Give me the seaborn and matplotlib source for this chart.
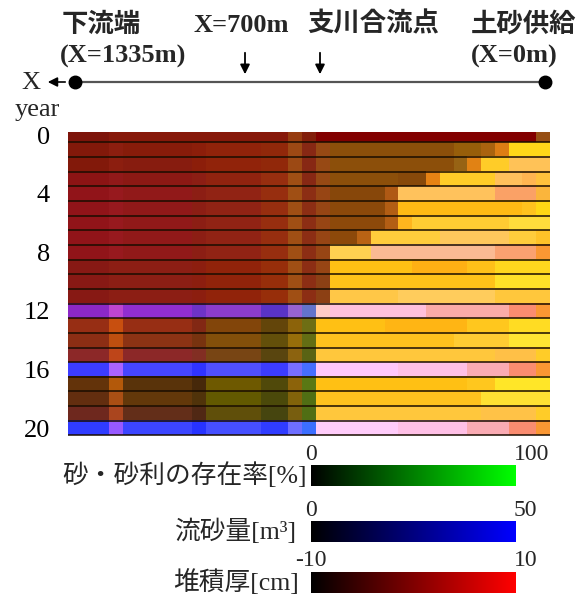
import numpy as np
import matplotlib
matplotlib.use("Agg")
import matplotlib.pyplot as plt
from matplotlib.colors import LinearSegmentedColormap, Normalize
from matplotlib.cm import ScalarMappable
import seaborn as sns

# years shown on the vertical axis
year_ticks = [0, 4, 8, 12, 16, 20]

# deposition thickness [cm], downstream reach (X=1335m -> tributary junction), rows = year 0..20
dep_down = [
    [-0.2, -0.2, -0.2, 0.6, 0.6, 0.6, 0.6, 0.6, 0.6, 0.6, 0.6, 0.6, 0.6, 0.6, 0.6, 0.6, 1.8, 0.2],
    [0.2, 0.2, 0.2, 1.0, 0.6, 0.6, 0.6, 0.6, 0.6, 1.0, 1.4, 1.4, 1.4, 1.4, 1.4, 1.4, 2.2, 0.6],
    [0.2, 0.2, 0.2, 1.0, 0.6, 0.6, 0.6, 0.6, 0.6, 1.0, 1.4, 1.4, 1.4, 1.4, 1.4, 1.4, 2.2, 0.6],
    [1.0, 1.0, 1.0, 1.4, 1.0, 1.0, 1.0, 1.0, 1.0, 1.0, 1.4, 1.4, 1.4, 1.4, 1.8, 1.8, 2.5, 0.6],
    [1.4, 1.4, 1.4, 1.8, 1.4, 1.4, 1.4, 1.4, 1.4, 1.0, 1.4, 1.4, 1.4, 1.4, 1.8, 1.8, 2.5, 1.0],
    [1.4, 1.4, 1.4, 1.8, 1.4, 1.4, 1.4, 1.4, 1.4, 1.0, 1.4, 1.4, 1.4, 1.4, 1.8, 1.8, 2.5, 1.0],
    [1.4, 1.4, 1.4, 1.8, 1.4, 1.4, 1.4, 1.4, 1.4, 1.0, 1.4, 1.4, 1.4, 1.4, 1.8, 1.8, 2.5, 1.0],
    [1.4, 1.4, 1.4, 1.8, 1.4, 1.4, 1.4, 1.4, 1.4, 1.0, 1.4, 1.4, 1.4, 1.4, 1.8, 1.8, 2.5, 1.0],
    [1.4, 1.4, 1.4, 1.8, 1.4, 1.4, 1.4, 1.4, 1.4, 1.0, 1.4, 1.4, 1.4, 1.4, 1.8, 1.8, 2.5, 1.0],
    [0.6, 0.6, 0.6, 1.0, 1.0, 1.0, 1.0, 1.0, 1.0, 1.0, 1.4, 1.4, 1.4, 1.4, 1.8, 1.8, 2.5, 1.0],
    [0.6, 0.6, 0.6, 1.0, 1.0, 1.0, 1.0, 1.0, 1.0, 1.0, 1.4, 1.4, 1.4, 1.4, 1.8, 1.8, 2.5, 1.0],
    [0.6, 0.6, 0.6, 1.0, 1.0, 1.0, 1.0, 1.0, 1.0, 1.0, 1.4, 1.4, 1.4, 1.4, 1.8, 1.8, 2.5, 1.0],
    [1.0, 1.0, 1.0, 4.9, 1.4, 1.4, 1.4, 1.4, 1.4, -1.4, 1.0, 1.0, 1.0, 1.0, -2.9, -2.9, 1.8, -2.2],
    [1.8, 1.8, 1.8, 5.7, 1.8, 1.8, 1.8, 1.8, 1.8, 0.2, 0.2, 0.2, 0.2, 0.2, -2.2, -2.2, 1.0, -1.4],
    [1.0, 1.0, 1.0, 4.9, 1.0, 1.0, 1.0, 1.0, 1.0, -0.6, 0.2, 0.2, 0.2, 0.2, -2.2, -2.2, 1.8, -2.2],
    [1.0, 1.0, 1.0, 4.9, 1.0, 1.0, 1.0, 1.0, 1.0, 0.2, -0.6, -0.6, -0.6, -0.6, -2.9, -2.9, 1.0, -2.9],
    [-5.3, -5.3, -5.3, 3.3, -4.5, -4.5, -4.5, -4.5, -4.5, -6.1, -3.7, -3.7, -3.7, -3.7, -5.3, -5.3, -0.6, -4.5],
    [-2.2, -2.2, -2.2, 4.1, -2.9, -2.9, -2.9, -2.9, -2.9, -4.5, -1.4, -1.4, -1.4, -1.4, -3.7, -3.7, 1.0, -2.9],
    [-2.2, -2.2, -2.2, 3.3, -2.2, -2.2, -2.2, -2.2, -2.2, -3.7, -2.2, -2.2, -2.2, -2.2, -4.1, -4.1, 0.2, -3.7],
    [-1.4, -1.4, -1.4, 3.3, -2.2, -2.2, -2.2, -2.2, -2.2, -3.7, -2.5, -2.5, -2.5, -2.5, -4.5, -4.5, -0.6, -3.7],
    [-6.1, -6.1, -6.1, 1.8, -5.3, -5.3, -5.3, -5.3, -5.3, -6.9, -4.5, -4.5, -4.5, -4.5, -6.1, -6.1, -1.4, -5.3],
]

# deposition thickness [cm], upstream reach (junction -> sediment supply X=0m)
dep_up = [
    [0.2, 0.2, 0.2, 0.2, 0.2, 0.2, 0.2, 0.2, 0.2, 0.2, 0.2, 0.2, 0.2, 0.2, 0.2, 0.2, 1.8],
    [1.8, 1.0, 1.0, 1.0, 1.0, 1.0, 1.0, 1.0, 1.0, 1.0, 1.8, 1.8, 3.3, 7.3, 10, 10, 10],
    [1.8, 1.0, 1.0, 1.0, 1.0, 1.0, 1.0, 1.0, 1.0, 1.0, 1.8, 7.6, 10, 10, 10, 10, 10],
    [1.8, 1.0, 1.0, 1.0, 1.0, 1.0, 0.6, 0.6, 8.0, 10, 10, 10, 10, 10, 10, 10, 10],
    [1.8, 0.6, 0.6, 0.6, 0.6, 3.7, 10, 10, 10, 10, 10, 10, 10, 9.6, 9.6, 9.6, 9.6],
    [1.8, 1.0, 1.0, 1.0, 1.0, 4.1, 10, 10, 10, 10, 10, 10, 10, 10, 10, 10, 10],
    [1.8, 1.0, 1.0, 1.0, 1.0, 4.1, 10, 10, 10, 10, 10, 10, 10, 10, 10, 10, 10],
    [1.8, 1.0, 1.0, 4.5, 10, 10, 10, 10, 10, 10, 10, 10, 10, 10, 10, 10, 10],
    [1.8, 10, 10, 10, 9.6, 9.6, 9.6, 9.6, 9.6, 9.6, 9.6, 9.6, 9.6, 9.6, 9.6, 9.6, 9.6],
    [1.8, 10, 10, 10, 10, 10, 10, 10, 10, 10, 10, 10, 10, 10, 10, 10, 10],
    [1.0, 10, 10, 10, 10, 10, 10, 10, 10, 10, 10, 10, 10, 10, 10, 10, 10],
    [1.0, 10, 10, 10, 10, 10, 10, 10, 10, 10, 10, 10, 10, 10, 10, 10, 10],
    [10, 10, 10, 10, 10, 10, 10, 10, 9.6, 9.6, 9.6, 9.6, 9.6, 9.6, 9.6, 9.6, 9.6],
    [10, 10, 10, 10, 10, 10, 10, 10, 10, 10, 10, 10, 10, 10, 10, 10, 10],
    [10, 10, 10, 10, 10, 10, 10, 10, 10, 10, 10, 10, 10, 10, 10, 10, 10],
    [10, 10, 10, 10, 10, 10, 10, 10, 10, 10, 10, 10, 10, 10, 10, 10, 10],
    [10, 10, 10, 10, 10, 10, 10, 10, 10, 10, 10, 9.6, 9.6, 9.6, 9.6, 9.6, 9.6],
    [10, 10, 10, 10, 10, 10, 10, 10, 10, 10, 10, 10, 10, 10, 10, 10, 10],
    [10, 10, 10, 10, 10, 10, 10, 10, 10, 10, 10, 10, 10, 10, 10, 10, 10],
    [10, 10, 10, 10, 10, 10, 10, 10, 10, 10, 10, 10, 10, 10, 10, 10, 10],
    [10, 10, 10, 10, 10, 10, 10, 10, 10, 10, 10, 9.6, 9.6, 9.6, 9.6, 9.6, 9.6],
]

# sand / gravel ratio [%]
sand_down = [
    [8, 8, 8, 10, 10, 10, 10, 10, 10, 10, 10, 10, 10, 10, 10, 10, 24, 12],
    [10, 10, 10, 12, 11, 11, 11, 11, 11, 12, 14, 14, 14, 14, 16, 16, 29, 16],
    [10, 10, 10, 12, 11, 11, 11, 11, 11, 12, 14, 14, 14, 14, 16, 16, 29, 16],
    [8, 8, 8, 10, 10, 10, 10, 10, 10, 12, 14, 14, 14, 14, 18, 18, 31, 16],
    [8, 8, 8, 10, 10, 10, 10, 10, 10, 12, 14, 14, 14, 14, 18, 18, 31, 18],
    [8, 8, 8, 10, 10, 10, 10, 10, 10, 12, 14, 14, 14, 14, 18, 18, 31, 18],
    [8, 8, 8, 10, 10, 10, 10, 10, 10, 12, 14, 14, 14, 14, 18, 18, 31, 18],
    [8, 8, 8, 10, 10, 10, 10, 10, 10, 12, 14, 14, 14, 14, 18, 18, 31, 18],
    [8, 8, 8, 10, 10, 10, 10, 10, 10, 12, 14, 14, 14, 14, 18, 18, 31, 18],
    [10, 10, 10, 12, 12, 12, 12, 12, 12, 12, 14, 14, 14, 14, 18, 18, 31, 18],
    [10, 10, 10, 12, 12, 12, 12, 12, 12, 12, 14, 14, 14, 14, 18, 18, 31, 18],
    [10, 10, 10, 12, 12, 12, 12, 12, 12, 12, 14, 14, 14, 14, 18, 18, 31, 18],
    [16, 16, 16, 27, 18, 18, 18, 18, 18, 20, 24, 24, 24, 24, 20, 20, 39, 45],
    [18, 18, 18, 31, 18, 18, 18, 18, 18, 16, 27, 27, 27, 27, 27, 27, 39, 43],
    [18, 18, 18, 31, 20, 20, 20, 20, 20, 20, 31, 31, 31, 31, 31, 31, 43, 43],
    [16, 16, 16, 27, 16, 16, 16, 16, 16, 18, 27, 27, 27, 27, 27, 27, 39, 39],
    [24, 24, 24, 39, 27, 27, 27, 27, 27, 20, 31, 31, 31, 31, 24, 24, 43, 43],
    [20, 20, 20, 35, 20, 20, 20, 20, 20, 16, 35, 35, 35, 35, 29, 29, 39, 47],
    [18, 18, 18, 31, 22, 22, 22, 22, 22, 20, 35, 35, 35, 35, 29, 29, 39, 43],
    [16, 16, 16, 27, 18, 18, 18, 18, 18, 16, 31, 31, 31, 31, 27, 27, 37, 43],
    [24, 24, 24, 35, 27, 27, 27, 27, 27, 20, 31, 31, 31, 31, 24, 24, 43, 43],
]

sand_up = [
    [0, 0, 0, 0, 0, 0, 0, 0, 0, 0, 0, 0, 0, 0, 0, 0, 31],
    [29, 31, 31, 31, 31, 31, 31, 31, 31, 31, 37, 37, 39, 49, 84, 84, 84],
    [29, 31, 31, 31, 31, 31, 31, 31, 31, 31, 39, 51, 80, 80, 76, 76, 76],
    [29, 31, 31, 31, 31, 31, 29, 29, 51, 80, 80, 80, 80, 75, 75, 71, 76],
    [27, 28, 28, 28, 28, 35, 76, 76, 76, 76, 76, 76, 76, 63, 63, 63, 71],
    [27, 29, 29, 29, 29, 37, 73, 73, 73, 73, 73, 73, 73, 73, 73, 76, 84],
    [27, 29, 29, 29, 29, 37, 71, 80, 80, 80, 80, 80, 80, 80, 86, 86, 86],
    [27, 29, 29, 39, 80, 80, 80, 80, 80, 78, 78, 78, 78, 78, 80, 80, 76],
    [27, 82, 82, 82, 73, 73, 73, 73, 73, 73, 73, 73, 73, 63, 63, 63, 59],
    [27, 75, 75, 75, 75, 75, 75, 69, 69, 69, 69, 75, 75, 84, 84, 84, 84],
    [25, 76, 76, 76, 76, 76, 76, 76, 76, 76, 76, 76, 76, 88, 88, 88, 88],
    [25, 78, 78, 78, 78, 78, 80, 80, 80, 80, 80, 80, 80, 78, 78, 78, 78],
    [80, 75, 75, 75, 75, 75, 75, 75, 67, 67, 67, 67, 67, 67, 55, 55, 59],
    [75, 75, 75, 75, 75, 71, 71, 71, 71, 71, 71, 78, 78, 78, 86, 86, 86],
    [76, 76, 76, 76, 76, 76, 76, 76, 76, 76, 80, 80, 80, 80, 90, 90, 90],
    [78, 78, 78, 78, 78, 78, 78, 78, 78, 78, 78, 78, 78, 75, 75, 75, 80],
    [78, 78, 78, 78, 78, 78, 75, 75, 75, 75, 75, 67, 67, 67, 55, 55, 59],
    [75, 75, 75, 75, 75, 75, 75, 75, 75, 75, 75, 78, 78, 90, 90, 90, 90],
    [76, 76, 76, 76, 76, 76, 76, 76, 76, 76, 76, 76, 88, 88, 88, 88, 88],
    [78, 78, 78, 78, 78, 78, 78, 78, 78, 78, 78, 78, 76, 76, 76, 76, 80],
    [80, 80, 80, 80, 80, 80, 75, 75, 75, 75, 75, 67, 67, 67, 55, 55, 59],
]

# sediment transport [m3]
flux_down = [
    [2, 2, 2, 2, 2, 2, 2, 2, 2, 2, 2, 2, 2, 2, 2, 2, 3, 2],
    [2, 2, 2, 3, 2, 2, 2, 2, 2, 2, 2, 2, 2, 2, 2, 2, 4, 4],
    [2, 2, 2, 3, 3, 3, 3, 3, 3, 2, 2, 2, 2, 2, 2, 2, 4, 4],
    [4, 4, 4, 5, 4, 4, 4, 4, 4, 4, 3, 3, 3, 3, 3, 3, 4, 4],
    [5, 5, 5, 6, 5, 5, 5, 5, 5, 4, 4, 4, 4, 4, 3, 3, 4, 4],
    [5, 5, 5, 6, 5, 5, 5, 5, 5, 4, 4, 4, 4, 4, 3, 3, 4, 4],
    [5, 5, 5, 6, 5, 5, 5, 5, 5, 4, 4, 4, 4, 4, 3, 3, 4, 4],
    [5, 5, 5, 6, 5, 5, 5, 5, 5, 4, 4, 4, 4, 4, 3, 3, 4, 4],
    [5, 5, 5, 6, 5, 5, 5, 5, 5, 4, 4, 4, 4, 4, 3, 3, 4, 4],
    [4, 4, 4, 4, 4, 4, 4, 4, 4, 3, 2, 2, 2, 2, 2, 2, 4, 4],
    [4, 4, 4, 4, 4, 4, 4, 4, 4, 3, 2, 2, 2, 2, 2, 2, 4, 4],
    [4, 4, 4, 4, 4, 4, 4, 4, 4, 3, 2, 2, 2, 2, 2, 2, 4, 4],
    [39, 39, 39, 41, 41, 41, 41, 41, 41, 39, 40, 40, 40, 40, 39, 39, 41, 40],
    [4, 4, 4, 3, 4, 4, 4, 4, 4, 4, 2, 2, 2, 2, 2, 2, 2, 4],
    [4, 4, 4, 3, 4, 4, 4, 4, 4, 3, 2, 2, 2, 2, 2, 2, 2, 4],
    [8, 8, 8, 5, 8, 8, 8, 8, 8, 7, 4, 4, 4, 4, 3, 3, 3, 4],
    [50, 50, 50, 50, 50, 50, 50, 50, 50, 50, 50, 50, 50, 50, 50, 50, 50, 50],
    [2, 2, 2, 2, 2, 2, 2, 2, 2, 2, 0, 0, 0, 0, 2, 2, 2, 4],
    [3, 3, 3, 4, 2, 2, 2, 2, 2, 2, 0, 0, 0, 0, 2, 2, 2, 4],
    [6, 6, 6, 6, 5, 5, 5, 5, 5, 4, 2, 2, 2, 2, 3, 3, 3, 4],
    [50, 50, 50, 50, 50, 50, 50, 50, 50, 50, 50, 50, 50, 50, 50, 50, 50, 50],
]

flux_up = [
    [0, 0, 0, 0, 0, 0, 0, 0, 0, 0, 0, 0, 0, 0, 0, 0, 4],
    [4, 2, 2, 2, 2, 2, 2, 2, 2, 2, 2, 2, 3, 4, 5, 5, 5],
    [4, 2, 2, 2, 2, 2, 2, 2, 2, 2, 4, 4, 8, 8, 17, 17, 17],
    [4, 2, 2, 2, 2, 2, 2, 2, 4, 8, 8, 8, 8, 18, 18, 16, 12],
    [4, 2, 2, 2, 2, 4, 18, 18, 18, 18, 18, 18, 18, 20, 20, 20, 12],
    [4, 2, 2, 2, 2, 4, 4, 4, 4, 4, 4, 4, 4, 4, 4, 6, 4],
    [4, 2, 2, 2, 2, 4, 6, 10, 10, 10, 10, 10, 10, 10, 12, 12, 12],
    [4, 2, 2, 4, 12, 12, 12, 12, 12, 18, 18, 18, 18, 18, 12, 12, 8],
    [4, 16, 16, 16, 29, 29, 29, 29, 29, 29, 29, 29, 29, 22, 22, 22, 10],
    [4, 4, 4, 4, 4, 4, 4, 4, 4, 4, 4, 5, 5, 6, 6, 6, 6],
    [4, 5, 5, 5, 5, 5, 5, 5, 5, 5, 5, 5, 5, 8, 8, 8, 8],
    [4, 14, 14, 14, 14, 14, 18, 18, 18, 18, 18, 18, 18, 12, 12, 12, 12],
    [39, 43, 43, 43, 43, 43, 43, 43, 33, 33, 33, 33, 33, 33, 22, 22, 10],
    [4, 4, 4, 4, 4, 4, 4, 4, 4, 4, 4, 6, 6, 6, 7, 7, 7],
    [6, 6, 6, 6, 6, 6, 6, 6, 6, 6, 10, 10, 10, 10, 10, 10, 10],
    [12, 12, 12, 12, 12, 12, 12, 12, 12, 12, 12, 12, 12, 14, 14, 14, 8],
    [49, 49, 49, 49, 49, 49, 45, 45, 45, 45, 45, 35, 35, 35, 22, 22, 10],
    [4, 4, 4, 4, 4, 4, 4, 4, 4, 4, 4, 6, 6, 8, 8, 8, 8],
    [6, 6, 6, 6, 6, 6, 6, 6, 6, 6, 6, 6, 10, 10, 10, 10, 10],
    [12, 12, 12, 12, 12, 12, 12, 12, 12, 12, 12, 12, 14, 14, 14, 14, 8],
    [49, 49, 49, 49, 49, 49, 45, 45, 45, 45, 45, 35, 35, 35, 22, 22, 10],
]

sns.set_theme(style="white")
plt.rcParams['font.family'] = ['Liberation Serif', 'Noto Sans CJK JP']

dep = np.hstack([np.array(dep_down), np.array(dep_up)])
sand = np.hstack([np.array(sand_down), np.array(sand_up)])
flux = np.hstack([np.array(flux_down), np.array(flux_up)])

# one colour scale per quantity, added together into an RGB picture
red_cmap = LinearSegmentedColormap.from_list('dep', ['black', '#ff0000'])
green_cmap = LinearSegmentedColormap.from_list('sand', ['black', '#00ff00'])
blue_cmap = LinearSegmentedColormap.from_list('flux', ['black', '#0000ff'])
dep_norm = Normalize(-10, 10)
sand_norm = Normalize(0, 100)
flux_norm = Normalize(0, 50)

rgb = (red_cmap(dep_norm(dep))[..., :3]
       + green_cmap(sand_norm(sand))[..., :3]
       + blue_cmap(flux_norm(flux))[..., :3]).clip(0, 1)

W, H = 587, 596
fig = plt.figure(figsize=(W / 100, H / 100), dpi=100)

# main picture
ax = fig.add_axes([68 / W, 1 - 436 / H, 482 / W, 304.3 / H])
ax.imshow(rgb, aspect='auto', interpolation='nearest')
for r in range(dep.shape[0]):
    ax.axhline(r + 0.5, color='#1a0d00', lw=1.1)
ax.set_ylim(dep.shape[0] - 0.46, -0.23)
ax.set_xlim(-0.5, dep.shape[1] - 0.5)
ax.set_xticks([])
ax.set_yticks(year_ticks)
ax.set_yticklabels([str(y) for y in year_ticks])
ax.tick_params(axis='y', length=0, pad=13, labelsize=19, labelcolor='black')
sns.despine(ax=ax, left=True, bottom=True)

# colour scales
bars = [
    (sand_norm, green_cmap, 465, '砂・砂利の存在率[%]', 307),
    (flux_norm, blue_cmap, 521, '流砂量[m³]', 297),
    (dep_norm, red_cmap, 572, '堆積厚[cm]', 299),
]
cax_list = []
for norm, cmap, top, label, lx in bars:
    cax = fig.add_axes([311 / W, 1 - (top + 20.5) / H, 205 / W, 20.5 / H])
    cb = fig.colorbar(ScalarMappable(norm=norm, cmap=cmap), cax=cax, orientation='horizontal')
    cb.outline.set_visible(False)
    cax.set_xticks([])
    cax_list.append((norm, top, label, lx))

# overlay in pixel coordinates for the schematic and labels
ov = fig.add_axes([0, 0, 1, 1])
ov.set_xlim(0, W)
ov.set_ylim(H, 0)
ov.axis('off')

ov.plot([75, 545], [82, 82], color='#555555', lw=1.6)
ov.plot([75, 545], [82, 82], 'o', color='black', ms=9)
ov.annotate('', xy=(45, 82), xytext=(68, 82),
            arrowprops=dict(arrowstyle='-|>', color='black', lw=1.2, mutation_scale=14))
ov.text(31, 83, 'X', ha='center', va='center', fontsize=19)
for xa in (245, 320):
    ov.annotate('', xy=(xa, 77), xytext=(xa, 50),
                arrowprops=dict(arrowstyle='-|>', color='black', lw=1.3, mutation_scale=14))

ov.text(62, 24, '下流端', ha='left', va='center', fontsize=19, fontweight='bold')
ov.text(60, 56, '(X=1335m)', ha='left', va='center', fontsize=19, fontweight='bold')
ov.text(193, 25, 'X=700m', ha='left', va='center', fontsize=19, fontweight='bold')
ov.text(307, 24, '支川合流点', ha='left', va='center', fontsize=19, fontweight='bold')
ov.text(471, 24, '土砂供給', ha='left', va='center', fontsize=19, fontweight='bold')
ov.text(471, 56, '(X=0m)', ha='left', va='center', fontsize=19, fontweight='bold')
ov.text(15, 110, 'year', ha='left', va='center', fontsize=19)

for norm, top, label, lx in cax_list:
    ov.text(lx, top + 10, label, ha='right', va='center', fontsize=18.5)
    ov.text(311, top - 11, f"{norm.vmin:g}", ha='center', va='center', fontsize=17)
    ov.text(514, top - 11, f"{norm.vmax:g}", ha='left', va='center', fontsize=17)

fig.savefig('out.png', dpi=100)
